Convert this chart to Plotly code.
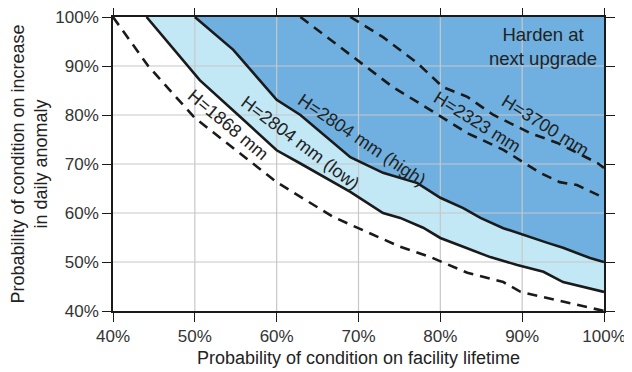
import plotly.graph_objects as go

# ---- data ----
x_1868 = [40, 44.3, 50, 55.5, 60, 66.9, 70, 75.1, 78.8, 83.3, 87.7, 89.8, 94.3, 100]
y_1868 = [100, 90, 79.4, 72.2, 66.3, 59.2, 56.9, 53.1, 51, 47.8, 45.9, 43.9, 42.2, 40]

x_low = [44.1, 49.2, 50.6, 55.5, 60, 62.9, 69, 73, 75.1, 77.9, 80, 82.8, 86.1, 89.4, 92.6, 95, 97.5, 100]
y_low = [100, 89.8, 87.1, 79.7, 72.8, 70.1, 64.3, 60, 59, 57, 54.9, 53.1, 51, 49.4, 48, 45.9, 44.9, 43.9]

x_high = [50, 54.7, 60, 62.9, 69, 73, 77.2, 80, 82.8, 84.9, 87.7, 90.1, 93.1, 95, 98.3, 100]
y_high = [100, 93.3, 83.1, 80, 71.4, 68.2, 66.1, 63.1, 61, 59, 56.9, 55.5, 53.9, 52.9, 50.8, 50]

x_2323 = [62.9, 69.8, 74.2, 78.8, 83.3, 87.7, 90.6, 92.2, 94.6, 96.7, 100]
y_2323 = [100, 91.2, 85.7, 81, 76.3, 72.9, 69.8, 68.2, 66.3, 65.7, 63.1]

x_3700 = [69, 73, 77.2, 80.3, 83.3, 86.5, 91, 94.3, 99.2, 100]
y_3700 = [100, 95.9, 90.6, 85.7, 83.7, 80, 76.3, 74.3, 70.2, 69.2]

tick_vals = [40, 50, 60, 70, 80, 90, 100]
tick_text = ["40%", "50%", "60%", "70%", "80%", "90%", "100%"]

labels = ["H=1868 mm", "H=2804 mm (low)", "H=2804 mm (high)", "H=2323 mm", "H=3700 mm"]
label_x = [54.1, 62.9, 70.4, 84.5, 92.9]
label_y = [78.0, 74.3, 74.9, 78.6, 77.8]
label_angle = [40, 37, 34, 32, 32]

LIGHT = "#c2e7f5"
DARK = "#6fb0e0"
GRID = "#c8c8c8"
FONT = "Liberation Sans, Arial, sans-serif"

fig = go.Figure()

# dark region: above high curve
fig.add_trace(go.Scatter(x=x_high + [100], y=y_high + [100], fill="toself",
                         fillcolor=DARK, line=dict(width=0), mode="lines",
                         hoverinfo="skip", showlegend=False))
# light region: between low and high curves
fig.add_trace(go.Scatter(x=x_low + x_high[::-1], y=y_low + y_high[::-1], fill="toself",
                         fillcolor=LIGHT, line=dict(width=0), mode="lines",
                         hoverinfo="skip", showlegend=False))

# grid lines drawn above fills
for v in tick_vals[1:-1]:
    fig.add_trace(go.Scatter(x=[v, v], y=[40, 100], mode="lines",
                             line=dict(color=GRID, width=1.2), hoverinfo="skip", showlegend=False))
    fig.add_trace(go.Scatter(x=[40, 100], y=[v, v], mode="lines",
                             line=dict(color=GRID, width=1.2), hoverinfo="skip", showlegend=False))

dash = "10px,7px"
for xs, ys, d in [(x_1868, y_1868, dash), (x_low, y_low, "solid"), (x_high, y_high, "solid"),
                  (x_2323, y_2323, dash), (x_3700, y_3700, dash)]:
    fig.add_trace(go.Scatter(x=xs, y=ys, mode="lines",
                             line=dict(color="#1a1a1a", width=2.6, dash=d),
                             hoverinfo="skip", showlegend=False))

for t, xx, yy, a in zip(labels, label_x, label_y, label_angle):
    fig.add_annotation(x=xx, y=yy, text=t, textangle=a, showarrow=False,
                       font=dict(size=18, color="#222222", family=FONT))

fig.add_annotation(x=92.5, y=94.0, text="Harden at<br>next upgrade", showarrow=False,
                   font=dict(size=18.5, color="#222222", family=FONT))

axis_common = dict(showline=True, linecolor="#1a1a1a", linewidth=1.5, mirror="allticks",
                   ticks="outside", ticklen=9, tickwidth=1.3, tickcolor="#1a1a1a",
                   showgrid=False, zeroline=False, tickvals=tick_vals, ticktext=tick_text,
                   automargin=False, ticklabeloverflow="allow",
                   tickfont=dict(size=17, color="#333333", family=FONT))

# page body has an 8px margin, so the figure is 624x364 placed at (8, 8)
fig.update_layout(
    width=624, height=364,
    margin=dict(l=105, r=28, t=9, b=61),
    paper_bgcolor="white", plot_bgcolor="white",
    font=dict(family=FONT, color="#222222"),
    xaxis=dict(range=[40, 100], title=dict(text="Probability of condition on facility lifetime",
                                           font=dict(size=18, color="#222222"), standoff=6),
               **axis_common),
    yaxis=dict(range=[40, 100], title=dict(text="Probability of condition on increase<br>in daily anomaly",
                                           font=dict(size=18, color="#222222"), standoff=14),
               **axis_common),
)

fig.write_html("out.html")
